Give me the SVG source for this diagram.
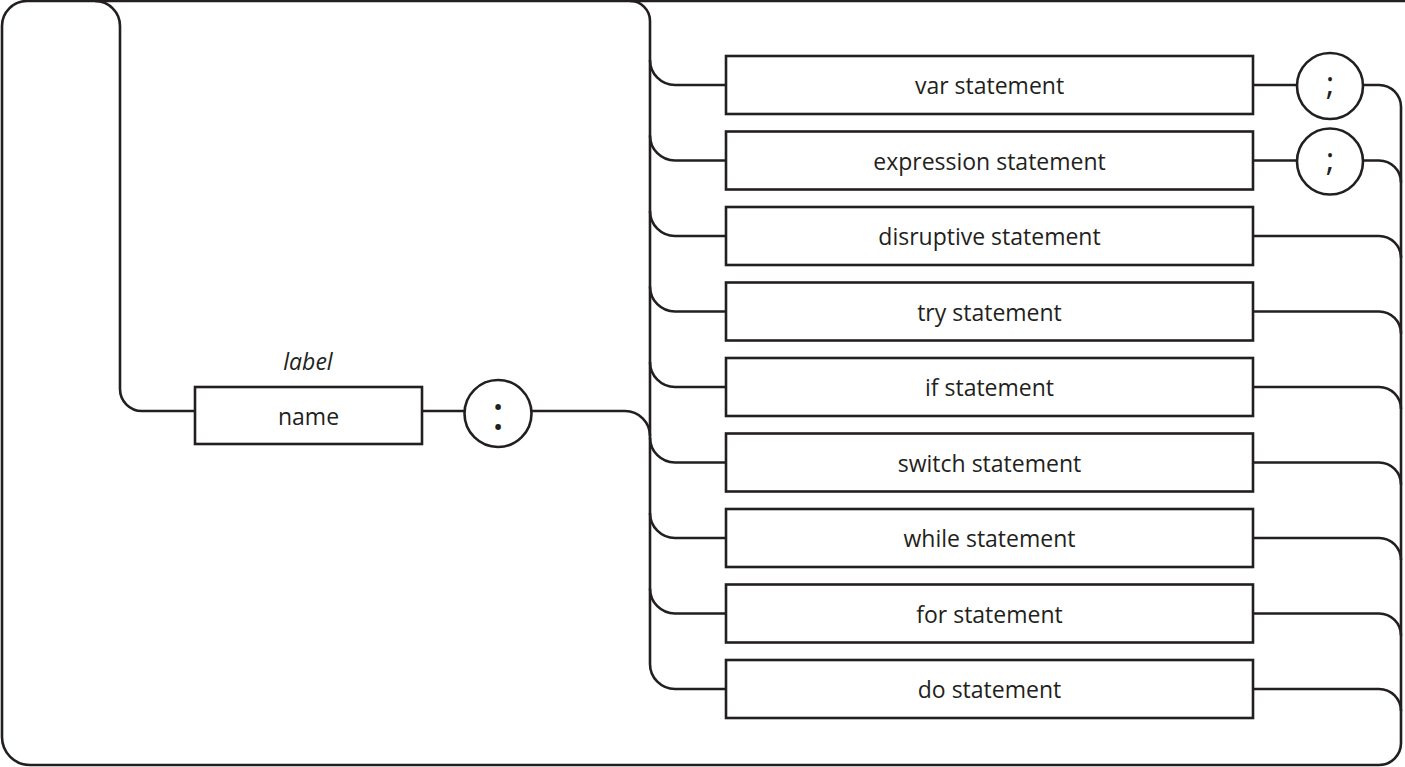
<svg xmlns="http://www.w3.org/2000/svg" width="1405" height="767" viewBox="0 0 1405 767">
<style>
.ln{fill:none;stroke:#231f20;stroke-width:2.6}
.bx{fill:#fff;stroke:#231f20;stroke-width:2.6}
.t{font-family:"Open Sans","Noto Sans",sans-serif;font-size:23px;fill:#231f20;text-anchor:middle}
.it{font-style:italic}
.big{font-size:48px}
.semi{font-size:33px}
</style>
<rect width="1405" height="767" fill="#fff"/>
<g id="connectors" class="ln">
<path d="M1405 1H27A25 25 0 0 0 2 26V737A28 28 0 0 0 30 765H1379A22 22 0 0 0 1401 743V107"/>
<path d="M95 1A25 25 0 0 1 120 26V389A22 22 0 0 0 142 411H195"/>
<path d="M422 411H465"/>
<path d="M531 411H625A25 25 0 0 1 650 436"/>
<path d="M630 1A20 20 0 0 1 650 21V664A25 25 0 0 0 675 689H726"/>
<path d="M650 60A25 25 0 0 0 675 85H726"/>
<path d="M650 135.5A25 25 0 0 0 675 160.5H726"/>
<path d="M650 211A25 25 0 0 0 675 236H726"/>
<path d="M650 286.5A25 25 0 0 0 675 311.5H726"/>
<path d="M650 362A25 25 0 0 0 675 387H726"/>
<path d="M650 437.5A25 25 0 0 0 675 462.5H726"/>
<path d="M650 513A25 25 0 0 0 675 538H726"/>
<path d="M650 588.5A25 25 0 0 0 675 613.5H726"/>
<path d="M1253 85H1297M1363 85H1379A22 22 0 0 1 1401 107"/>
<path d="M1253 160.5H1297M1363 160.5H1379A22 22 0 0 1 1401 182.5"/>
<path d="M1253 236H1379A22 22 0 0 1 1401 258"/>
<path d="M1253 311.5H1379A22 22 0 0 1 1401 333.5"/>
<path d="M1253 387H1379A22 22 0 0 1 1401 409"/>
<path d="M1253 462.5H1379A22 22 0 0 1 1401 484.5"/>
<path d="M1253 538H1379A22 22 0 0 1 1401 560"/>
<path d="M1253 613.5H1379A22 22 0 0 1 1401 635.5"/>
<path d="M1253 689H1379A22 22 0 0 1 1401 711"/>
</g>
<g id="name">
<text class="t it" x="308" y="370">label</text>
<rect class="bx" x="195" y="387" width="227" height="57"/>
<text class="t" x="308.5" y="425">name</text>
</g>
<g id="colon">
<circle class="bx" cx="498" cy="413.5" r="33.5"/>
<text class="t big" x="498" y="430">:</text>
</g>
<g id="var">
<rect class="bx" x="726" y="56" width="527" height="58"/>
<text class="t" x="989.5" y="94">var statement</text>
</g>
<g id="semi1">
<circle class="bx" cx="1330" cy="86" r="33"/>
<text class="t semi" x="1330" y="95">;</text>
</g>
<g id="expression">
<rect class="bx" x="726" y="131.5" width="527" height="58"/>
<text class="t" x="989.5" y="169.5">expression statement</text>
</g>
<g id="semi2">
<circle class="bx" cx="1330" cy="161.5" r="33"/>
<text class="t semi" x="1330" y="170.5">;</text>
</g>
<g id="disruptive">
<rect class="bx" x="726" y="207" width="527" height="58"/>
<text class="t" x="989.5" y="245">disruptive statement</text>
</g>
<g id="try">
<rect class="bx" x="726" y="282.5" width="527" height="58"/>
<text class="t" x="989.5" y="320.5">try statement</text>
</g>
<g id="if">
<rect class="bx" x="726" y="358" width="527" height="58"/>
<text class="t" x="989.5" y="396">if statement</text>
</g>
<g id="switch">
<rect class="bx" x="726" y="433.5" width="527" height="58"/>
<text class="t" x="989.5" y="471.5">switch statement</text>
</g>
<g id="while">
<rect class="bx" x="726" y="509" width="527" height="58"/>
<text class="t" x="989.5" y="547">while statement</text>
</g>
<g id="for">
<rect class="bx" x="726" y="584.5" width="527" height="58"/>
<text class="t" x="989.5" y="622.5">for statement</text>
</g>
<g id="do">
<rect class="bx" x="726" y="660" width="527" height="58"/>
<text class="t" x="989.5" y="698">do statement</text>
</g>
</svg>
